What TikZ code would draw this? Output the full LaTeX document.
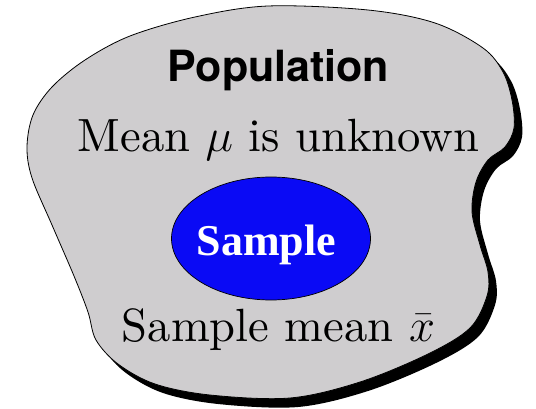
\RequirePackage{fix-cm}
\documentclass[tikz,border=0pt]{standalone}
\usepackage{fontspec}
\setmainfont{lmroman10-regular}[Extension=.otf, BoldFont=lmroman10-bold, ItalicFont=lmroman10-italic]
\usetikzlibrary{shapes.geometric}
\newfontfamily\herosfont{TeX Gyre Heros}
\newfontfamily\timesfont{Liberation Serif}
\definecolor{blobgray}{RGB}{207,205,207}
\definecolor{sampleblue}{RGB}{10,10,245}
\tikzset{
  blobline/.style={line width=0.8pt, line join=round},
  bigtext/.style={inner sep=0pt, anchor=base, font=\fontsize{46.6}{50}\selectfont},
}
\begin{document}
\begin{tikzpicture}[x=1pt,y=-1pt]
\useasboundingbox (0,0) rectangle (536,409);
\def\blobpath{plot[smooth cycle, tension=0.55] coordinates {
 (268,6) (368,10) (435,23) (483,48) (503,72) (512,100) (514,128) (505,147)
 (488,160) (476,182) (472,212) (480,245) (488,272) (487,296) (470,328)
 (428,354) (360,382) (290,398) (210,395) (155,384) (118,364) (96,340)
 (88,312) (74,276) (52,225) (32,178) (27,147) (33,115) (52,87) (85,60)
 (130,36) (195,17)}}
% shadow
\fill[black, shift={(8,9)}] \blobpath;
% blob
\filldraw[fill=blobgray, draw=black, blobline] \blobpath;
% sample ellipse
\node[draw=black, fill=sampleblue, ellipse, minimum width=199pt, minimum height=123pt, line width=0.7pt, inner sep=0pt] (sample) at (271,238.5) {};
\node[inner sep=0pt, anchor=base, text=white, font=\timesfont\bfseries\fontsize{44}{48}\selectfont] (samplelabel) at (266.5,255) {Sample};
\node[inner sep=0pt, anchor=base, font=\herosfont\bfseries\fontsize{43}{46}\selectfont] (pop) at (278.5,82) {Population};
\node[bigtext] (mean) at (278.5,152) {Mean $\mu$ is unknown};
\node[bigtext] (smean) at (278.5,341) {Sample mean $\bar{x}$};
\end{tikzpicture}
\end{document}
